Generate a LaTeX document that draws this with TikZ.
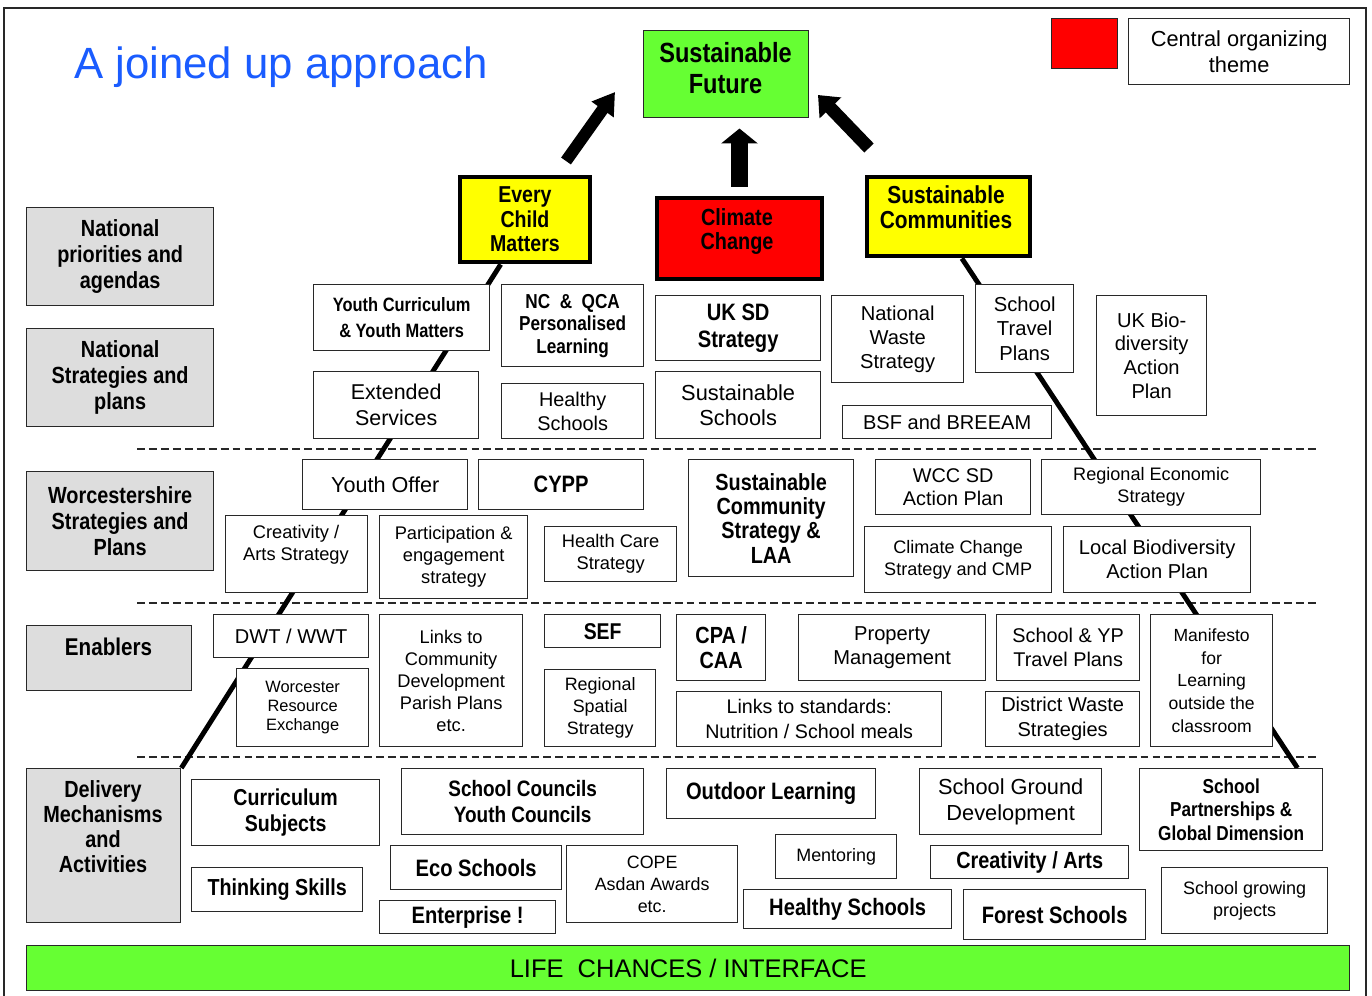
\documentclass[tikz,border=0pt]{standalone}
\usepackage{fontspec}
\setmainfont{Liberation Sans}
\newfontfamily\bnar{Liberation Sans}[FakeStretch=0.85]
\usetikzlibrary{arrows.meta,calc}
\pgfdeclarelayer{background}
\pgfdeclarelayer{canvas}
\pgfsetlayers{canvas,background,main}
\definecolor{catgray}{RGB}{221,221,221}
\definecolor{sfgreen}{RGB}{102,255,51}
\definecolor{tyellow}{RGB}{255,255,0}
\definecolor{tred}{RGB}{255,0,0}
\definecolor{tblue}{RGB}{26,92,255}
\definecolor{boxline}{RGB}{40,40,40}
\newcommand\myR[2]{\fontsize{#1pt}{#2pt}\selectfont}
\newcommand\myB[2]{\bnar\bfseries\fontsize{#1pt}{#2pt}\selectfont}
\tikzset{
  sz/.style n args={2}{minimum width=#1*0.02cm, minimum height=#2*0.02cm},
  bx/.style={draw=boxline, line width=0.75pt, fill=white, inner sep=0pt, align=center, anchor=north west},
  cat/.style={bx, fill=catgray},
  theme/.style={bx, draw=black, line width=2.8pt},
  txt/.style={inner sep=0pt, align=center},
  conn/.style={line width=2.8pt, black},
  dashrule/.style={line width=0.6pt, boxline, dash pattern=on 4.5pt off 2.3pt},
  blockarrow/.style n args={3}{line width=#1, black, -{Triangle[length=#2, width=#3]}},
}
\begin{document}
\begin{tikzpicture}[x=0.02cm,y=-0.02cm]
\useasboundingbox (0,0) rectangle (1372,995);
\begin{pgfonlayer}{canvas}
\fill[white] (0,0) rectangle (1372,995);
\end{pgfonlayer}
\draw[line width=0.9pt, boxline] (4,997) -- (4,8) -- (1366,8) -- (1366,997);

% title and legend
\node[txt, text=tblue, font=\myR{24.9}{28}] (title) at (281,67) {A joined up approach};
\node[bx, fill=tred, sz={66}{50}] (lgsq) at (1051,18) {};
\node[bx, sz={221}{66}, font=\myR{12.4}{14.7}] (lgtxt) at (1128,18) {Central organizing\\theme};

% themes
\node[bx, fill=sfgreen, sz={165}{87}] (sf) at (643,30) {};
\node[txt, font=\myB{15.8}{17.6}] (sf-t) at (725.5,68.5) {Sustainable\\Future};
\node[theme, fill=tyellow, sz={130}{85}, font=\myB{13.1}{13.9}] (ecm) at (457.5,174.5) {Every\\Child\\Matters};
\node[theme, fill=tred, sz={165}{81}] (cc) at (654.5,195.5) {};
\node[txt, font=\myB{13.3}{14.2}] (cc-t) at (737,231.5) {Climate\\Change};
\node[theme, fill=tyellow, sz={163}{79}] (scm) at (864.5,174.5) {};
\node[txt, font=\myB{14}{14.2}] (scm-t) at (946,207.5) {Sustainable\\Communities};

% block arrows
\coordinate (al1) at (566,161);
\coordinate (al2) at (615,92);
\coordinate (ar1) at (869,148);
\coordinate (ar2) at (818,95);
\draw[blockarrow={6.8pt}{12.2pt}{14.7pt}] (al1) -- (al2);
\draw[blockarrow={10.2pt}{8.5pt}{20.4pt}, shorten <=5pt, shorten >=5.8pt] (cc.north) -- (cc.north |- sf.south);
\draw[blockarrow={7.4pt}{10.2pt}{16.5pt}] (ar1) -- (ar2);

% category boxes
\node[cat, sz={187}{98}, font=\myB{13.3}{14.7}] (np) at (26,207) {National\\priorities and\\agendas};
\node[cat, sz={187}{98}, font=\myB{13.3}{14.7}] (ns) at (26,328) {National\\Strategies and\\plans};
\node[cat, sz={187}{99}, font=\myB{13.3}{14.7}] (ws) at (26,471) {Worcestershire\\Strategies and\\Plans};
\node[cat, sz={165}{65}] (en) at (26,625) {};
\node[txt, font=\myB{13.8}{14.7}] (en-t) at (108.5,647) {Enablers};
\node[cat, sz={154}{154}] (dm) at (26,768) {};
\node[txt, font=\myB{13.3}{14.2}] (dm-t) at (103,826.5) {Delivery\\Mechanisms\\and\\Activities};

% national row
\node[bx, sz={176}{66}, font=\myB{11}{14.7}] (ycurr) at (313,284) {Youth Curriculum\\\& Youth Matters};
\node[bx, sz={142}{82}, font=\myB{11.5}{12.8}] (ncqca) at (501,284) {NC~~\&~~QCA\\Personalised\\Learning};
\node[bx, sz={165}{65}, font=\myB{13.5}{15.3}] (uksd) at (655,295) {UK SD\\Strategy};
\node[bx, sz={132}{87}, font=\myR{11.45}{13.6}] (nws) at (831,295) {National\\Waste\\Strategy};
\node[bx, sz={98}{88}, font=\myR{11.5}{13.9}] (stp) at (975,284) {School\\Travel\\Plans};
\node[bx, sz={110}{120}, font=\myR{11.45}{13.6}] (ukbio) at (1096,295) {UK Bio-\\diversity\\Action\\Plan};
\node[bx, sz={165}{67}, font=\myR{12.2}{14.7}] (ext) at (313,371) {Extended\\Services};
\node[bx, sz={142}{55}, font=\myR{11.3}{13.6}] (hs) at (501,383) {Healthy\\Schools};
\node[bx, sz={165}{67}, font=\myR{12.4}{14.7}] (ss) at (655,371) {Sustainable\\Schools};
\node[bx, sz={209}{33}, font=\myR{11.4}{13.6}] (bsf) at (842,405) {BSF and BREEAM};

% Worcestershire row
\node[bx, sz={165}{50}, font=\myR{12.3}{14.7}] (yo) at (302,459) {Youth Offer};
\node[bx, sz={165}{50}, font=\myB{13.5}{14.7}] (cypp) at (478,459) {CYPP};
\node[bx, sz={165}{117}, font=\myB{13.3}{13.9}] (scs) at (688,459) {Sustainable\\Community\\Strategy \&\\LAA};
\node[bx, sz={155}{55}, font=\myR{11.3}{13}] (wcc) at (875,459) {WCC SD\\Action Plan};
\node[bx, sz={219}{55}, font=\myR{10.3}{12.5}] (res) at (1041,459) {Regional Economic\\Strategy};
\node[bx, sz={142}{77}] (cas) at (225,515) {};
\node[txt, font=\myR{10.4}{12.5}] (cas-t) at (296,545) {Creativity /\\Arts Strategy};
\node[bx, sz={148}{83}, font=\myR{10.4}{12.5}] (pes) at (379,515) {Participation \&\\engagement\\strategy};
\node[bx, sz={132}{55}, font=\myR{10.4}{12.5}] (hcs) at (544,526) {Health Care\\Strategy};
\node[bx, sz={187}{66}, font=\myR{10.3}{12.5}] (ccs) at (864,526) {Climate Change\\Strategy and CMP};
\node[bx, sz={187}{66}, font=\myR{11.45}{13.6}] (lbap) at (1063,526) {Local Biodiversity\\Action Plan};

% enablers row
\node[bx, sz={155}{43}, font=\myR{11.4}{13.6}] (dwt) at (213,614) {DWT / WWT};
\node[bx, sz={132}{78}, font=\myR{9.35}{10.8}] (wre) at (236,668) {Worcester\\Resource\\Exchange};
\node[bx, sz={143}{132}, font=\myR{10.4}{12.5}] (lcd) at (379,614) {Links to\\Community\\Development\\Parish Plans\\etc.};
\node[bx, sz={116}{33}, font=\myB{13}{14.2}] (sef) at (544,614) {SEF};
\node[bx, sz={111}{77}, font=\myR{10.2}{12.5}] (rss) at (544,669) {Regional\\Spatial\\Strategy};
\node[bx, sz={89}{66}, font=\myB{13.3}{14.2}] (cpa) at (676,614) {CPA /\\CAA};
\node[bx, sz={187}{66}, font=\myR{11.45}{14.2}] (pm) at (798,614) {Property\\Management};
\node[bx, sz={143}{66}, font=\myR{11.3}{13.6}] (syp) at (996,614) {School \& YP\\Travel Plans};
\node[bx, sz={122}{132}, font=\myR{10}{13}] (mfl) at (1150,614) {Manifesto\\for\\Learning\\outside the\\classroom};
\node[bx, sz={265}{55}, font=\myR{11.2}{14.2}] (lts) at (676,691) {Links to standards:\\Nutrition / School meals};
\node[bx, sz={154}{55}, font=\myR{11.4}{14.2}] (dws) at (985,691) {District Waste\\Strategies};

% delivery row
\node[bx, sz={188}{66}, font=\myB{13.1}{14.7}] (cs) at (191,779) {Curriculum\\Subjects};
\node[bx, sz={242}{66}, font=\myB{12.7}{14.7}] (scyc) at (401,768) {School Councils\\Youth Councils};
\node[bx, sz={209}{50}, font=\myB{13.5}{14.7}] (ol) at (666,768) {Outdoor Learning};
\node[bx, sz={182}{66}, font=\myR{12.4}{14.7}] (sgd) at (919,768) {School Ground\\Development};
\node[bx, sz={183}{82}, font=\myB{11.5}{13.6}] (spgd) at (1139,768) {School\\Partnerships \&\\Global Dimension};
\node[bx, sz={171}{44}, font=\myB{13.2}{14.7}] (ts) at (191,867) {Thinking Skills};
\node[bx, sz={171}{44}, font=\myB{13.5}{14.7}] (eco) at (390,845) {Eco Schools};
\node[bx, sz={176}{33}, font=\myB{13.5}{14.7}] (ent) at (379,900) {Enterprise !};
\node[bx, sz={171}{77}, font=\myR{10.15}{12.5}] (cope) at (566,845) {COPE\\Asdan Awards\\etc.};
\node[bx, sz={121}{44}, font=\myR{10.2}{12.5}] (ment) at (775,834) {Mentoring};
\node[bx, sz={208}{39}, font=\myB{13.5}{14.7}] (hsch) at (743,889) {Healthy Schools};
\node[bx, sz={198}{33}, font=\myB{13.3}{14.7}] (ca) at (930,845) {Creativity / Arts};
\node[bx, sz={182}{50}, font=\myB{13.5}{14.7}] (fs) at (963,889) {Forest Schools};
\node[bx, sz={166}{66}, font=\myR{10.25}{12.5}] (sgp) at (1161,867) {School growing\\projects};
\node[bx, fill=sfgreen, sz={1323}{45}, font=\myR{14.5}{16}] (life) at (26,945) {LIFE~~CHANCES / INTERFACE};

\begin{pgfonlayer}{background}
  \draw[dashrule] (137,449) -- (1316,449);
  \draw[dashrule] (137,603) -- (1316,603);
  \draw[dashrule] (137,757) -- (1316,757);
  \draw[conn] ($(ecm.south west)!0.32!(ecm.south east)$) -- (dm.north east);
  \draw[conn] ($(scm.south west)!0.58!(scm.south east)$) -- ($(spgd.north west)!0.86!(spgd.north east)$);
\end{pgfonlayer}
\end{tikzpicture}
\end{document}
